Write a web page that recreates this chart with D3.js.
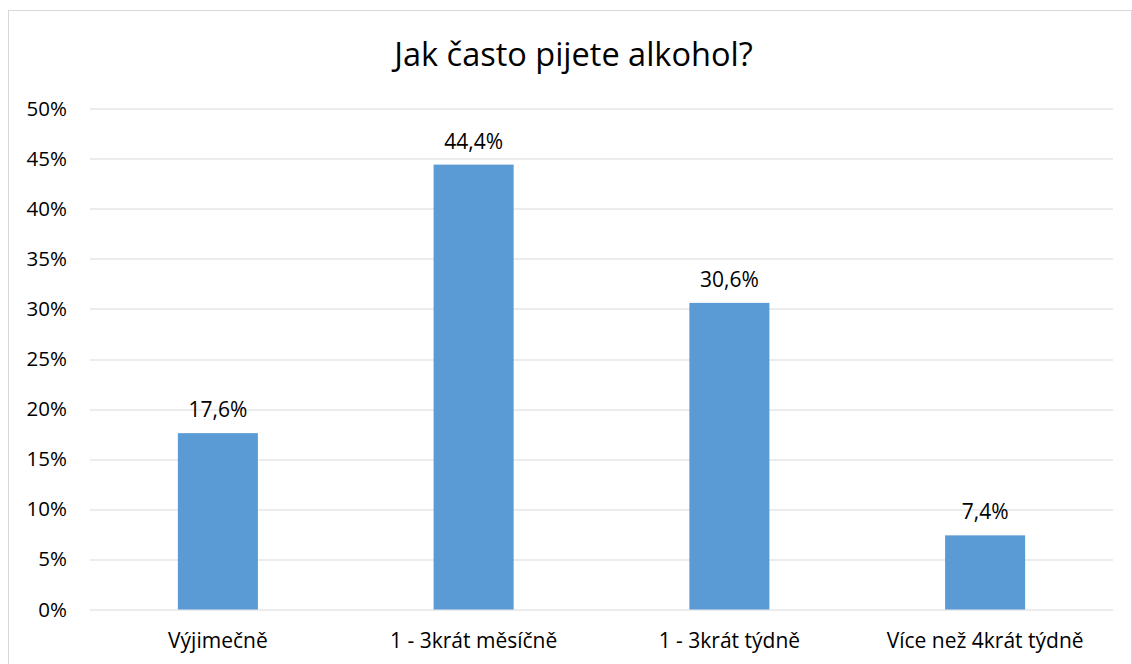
<!DOCTYPE html>
<html>
<head>
<meta charset="utf-8">
<script src="https://d3js.org/d3.v7.min.js"></script>
<style>
  html, body { margin: 0; padding: 0; background: #fff; }
  svg { display: block; font-family: "Open Sans", Lato, sans-serif; }
</style>
</head>
<body>
<svg id="chart" width="1132" height="664"></svg>
<script>
// Survey: how often do you drink alcohol?
const categories = ["Výjimečně", "1 - 3krát měsíčně", "1 - 3krát týdně", "Více než 4krát týdně"];
const shares = [17.6, 44.4, 30.6, 7.4];
const yTicks = [0, 5, 10, 15, 20, 25, 30, 35, 40, 45, 50];
const title = "Jak často pijete alkohol?";

const FONT = "'Open Sans', Lato, sans-serif";
const svg = d3.select("#chart");
const W = 1132, H = 664;
const margin = { top: 108.5, right: 19, bottom: 54.5, left: 90 };
const innerW = W - margin.left - margin.right;
const innerH = H - margin.top - margin.bottom;

// chart frame
svg.append("rect")
  .attr("x", 8.5).attr("y", 10.5)
  .attr("width", W - 9).attr("height", H)
  .attr("fill", "#fff").attr("stroke", "#d9d9d9").attr("stroke-width", 1);

const g = svg.append("g").attr("transform", `translate(${margin.left},${margin.top})`);

const x = d3.scaleBand().domain(categories).range([0, innerW]).paddingInner(0.687).paddingOuter(0.3435);
const y = d3.scaleLinear().domain([0, 50]).range([innerH, 0]);

// horizontal gridlines
g.append("g")
  .selectAll("line")
  .data(yTicks)
  .join("line")
  .attr("x1", 0).attr("x2", innerW)
  .attr("y1", d => Math.round(y(d)) + 0.5).attr("y2", d => Math.round(y(d)) + 0.5)
  .attr("stroke", "#d9d9d9").attr("stroke-width", 1);

// y axis labels
const yAxis = d3.axisLeft(y).tickValues(yTicks).tickFormat(d => d + "%").tickSize(0).tickPadding(23);
g.append("g").call(yAxis)
  .call(s => s.select(".domain").remove())
  .selectAll("text")
  .attr("font-size", 20.5).attr("fill", "#000").attr("font-family", FONT);

// bars
g.append("g")
  .selectAll("rect")
  .data(shares)
  .join("rect")
  .attr("x", (d, i) => x(categories[i]))
  .attr("width", x.bandwidth())
  .attr("y", d => y(d))
  .attr("height", d => y(0) - y(d))
  .attr("fill", "#5b9bd5");

// value labels
g.append("g")
  .selectAll("text")
  .data(shares)
  .join("text")
  .attr("x", (d, i) => x(categories[i]) + x.bandwidth() / 2)
  .attr("y", d => y(d) - 16)
  .attr("text-anchor", "middle")
  .attr("font-size", 21)
  .attr("font-family", FONT)
  .attr("fill", "#000")
  .text(d => d.toFixed(1).replace(".", ",") + "%");

// x axis labels
const xAxis = d3.axisBottom(x).tickSize(0).tickPadding(24);
g.append("g").attr("transform", `translate(0,${innerH})`).call(xAxis)
  .call(s => s.select(".domain").remove())
  .selectAll("text")
  .attr("font-size", 21).attr("fill", "#000").attr("font-family", FONT);

// title
svg.append("text")
  .attr("x", margin.left + innerW / 2 - 28)
  .attr("y", 66)
  .attr("text-anchor", "middle")
  .attr("font-size", 32.5)
  .attr("font-family", FONT)
  .attr("fill", "#000")
  .text(title);
</script>
</body>
</html>
